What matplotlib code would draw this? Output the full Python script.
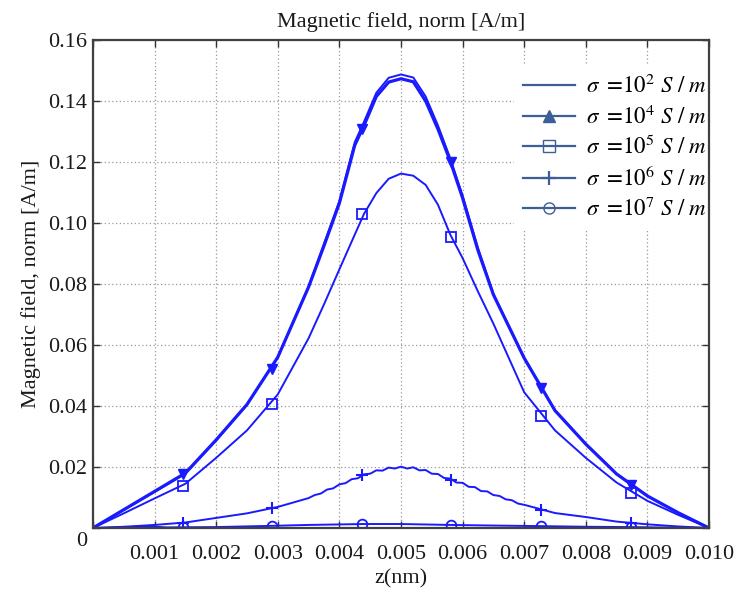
import matplotlib
matplotlib.use("Agg")
import matplotlib.pyplot as plt
from matplotlib.lines import Line2D
from matplotlib.transforms import ScaledTranslation

plt.rcParams['font.family'] = ['Liberation Serif', 'DejaVu Serif']
plt.rcParams['mathtext.fontset'] = 'stix'

# position along the sample (nm)
z_main = [0, .0005, .001, .0015, .002, .0025, .003, .0035, .00375, .004, .00425,
          .0044, .0046, .0048, .005, .0052, .0054, .0056, .0058, .006, .00625,
          .0065, .007, .0075, .008, .0085, .009, .0095, .010]

h_s2 = [0, .0059, .0118, .0178, .0287, .0404, .0560, .0792, .0932, .1072, .1265,
        .1332, .1427, .1476, .1487, .1477, .1415, .1320, .1212, .1090, .0918,
        .0768, .0558, .0386, .0276, .0178, .0105, .0050, 0]

h_s4 = [0, .0060, .0120, .0180, .0289, .0405, .0560, .0790, .0925, .1065, .1255,
        .1320, .1415, .1462, .1473, .1463, .1400, .1308, .1203, .1082, .0910,
        .0765, .0557, .0385, .0275, .0177, .0105, .0050, 0]

h_s5 = [0, .0048, .0097, .0145, .0230, .0320, .0438, .0622, .0733, .0848, .0962,
        .1030, .1098, .1145, .1162, .1155, .1125, .1060, .0962, .0885, .0775,
        .0670, .0445, .0320, .0230, .0149, .0089, .0043, 0]

z_s6 = [0, .0005, .001, .0015, .002, .0025, .003, .0035, .0036, .0037, .0038,
        .0039, .0040, .0041, .0042, .0043, .0044, .0045, .0046, .0047, .0048,
        .0049, .0050, .0051, .0052, .0053, .0054, .0055, .0056, .0057, .0058,
        .0059, .0060, .0061, .0062, .0063, .0064, .0065, .0066, .0067, .0068,
        .0069, .0070, .0075, .008, .0085, .009, .0095, .010]
h_s6 = [0, .0004, .0010, .0018, .0033, .0048, .0069, .0098, .0108, .0113, .0126,
        .0130, .0143, .0147, .0160, .0163, .0176, .0178, .0189, .0188, .0198,
        .0195, .0201, .0195, .0199, .0189, .0190, .0178, .0177, .0164, .0162,
        .0149, .0148, .0135, .0134, .0121, .0120, .0108, .0105, .0094, .0091,
        .0080, .0076, .0049, .0036, .0021, .0012, .0005, 0]

z_s7 = [0, .0005, .0009, .0012, .002, .0029, .0035, .0044, .005, .0058, .0065,
        .0073, .008, .0087, .0095, .010]
h_s7 = [0, .0002, .0005, .0002, .0003, .0007, .0010, .0013, .0013, .0010, .0008,
        .0006, .0004, .0003, .0001, 0]

# marker positions
z_mk = [.00146, .00291, .00436, .00582, .00727, .00873]
mk_s4 = [.0176, .0521, .1307, .1201, .0458, .0141]
mk_s5 = [.0139, .0407, .1030, .0955, .0367, .0115]
mk_s6 = [.0017, .0065, .0174, .0157, .0059, .0017]
mk_s7 = [.0003, .0007, .0013, .0010, .0007, .0003]

x_ticks = [0, .001, .002, .003, .004, .005, .006, .007, .008, .009, .010]
x_labels = ['', '0.001', '0.002', '0.003', '0.004', '0.005', '0.006', '0.007',
            '0.008', '0.009', '0.010']
y_ticks = [0, .02, .04, .06, .08, .10, .12, .14, .16]
y_labels = ['0', '0.02', '0.04', '0.06', '0.08', '0.10', '0.12', '0.14', '0.16']

legend_labels = [r'$\sigma\ =\!10^{2}\ S\ /\ m$', r'$\sigma\ =\!10^{4}\ S\ /\ m$',
                 r'$\sigma\ =\!10^{5}\ S\ /\ m$', r'$\sigma\ =\!10^{6}\ S\ /\ m$',
                 r'$\sigma\ =\!10^{7}\ S\ /\ m$']

blue = '#1a1aff'
leg_col = '#3d5f98'

fig = plt.figure(figsize=(7.39, 5.97), dpi=100)
ax = fig.add_axes([0.1258, 0.1156, 0.8336, 0.8174])

ax.plot(z_main, h_s2, color=blue, lw=1.4, zorder=3)
ax.plot(z_main, h_s4, color=blue, lw=2.3, zorder=3)
ax.plot(z_main, h_s5, color=blue, lw=1.4, zorder=3)
ax.plot(z_s6, h_s6, color=blue, lw=1.4, zorder=3)
ax.plot(z_s7, h_s7, color=blue, lw=1.4, zorder=3)

ax.plot(z_mk, mk_s4, ls='none', marker='v', ms=7, color=blue, zorder=4)
ax.plot(z_mk, mk_s5, ls='none', marker='s', ms=7, mfc='none', mec=blue, mew=1.3, zorder=4)
ax.plot(z_mk, mk_s6, ls='none', marker='+', ms=9, mec=blue, mew=1.5, zorder=4)
ax.plot(z_mk, mk_s7, ls='none', marker='o', ms=7, mfc='none', mec=blue, mew=1.3, zorder=4)

ax.set_xlim(0, 0.010)
ax.set_ylim(0, 0.16)
ax.set_xticks(x_ticks)
ax.set_xticklabels(x_labels)
ax.set_yticks(y_ticks)
ax.set_yticklabels(y_labels)
ax.tick_params(direction='in', top=True, right=True, length=5, width=1,
               labelsize=16, colors='#333333', labelcolor='#1a1a1a')
ax.tick_params(axis='x', pad=12)
ax.tick_params(axis='y', pad=4)
# corner label sits slightly below the axis line
fig.canvas.draw()
ylab0 = ax.get_yticklabels()[0]
ylab0.set_transform(ylab0.get_transform() + ScaledTranslation(0, -8 / 72, fig.dpi_scale_trans))

ax.grid(True, ls=(0, (1, 2)), color='#999999', lw=0.9)
ax.set_axisbelow(True)
for sp in ax.spines.values():
    sp.set_color('#404040')
    sp.set_linewidth(1.6)
    sp.set_zorder(6)

ax.set_title('Magnetic field, norm [A/m]', fontsize=16, pad=9, color='#1a1a1a')
ax.set_xlabel('z(nm)', fontsize=16, labelpad=4, color='#1a1a1a')
ax.set_ylabel('Magnetic field, norm [A/m]', fontsize=16, labelpad=5, color='#1a1a1a')

handles = [
    Line2D([], [], color=leg_col, lw=1.6),
    Line2D([], [], color=leg_col, lw=1.6, marker='^', ms=8),
    Line2D([], [], color=leg_col, lw=1.6, marker='s', ms=8, mfc='none'),
    Line2D([], [], color=leg_col, lw=1.6, marker='+', ms=10, mew=1.6),
    Line2D([], [], color=leg_col, lw=1.6, marker='o', ms=8, mfc='none'),
]
leg = ax.legend(handles, legend_labels, loc='upper right', bbox_to_anchor=(1.03, 0.97),
                frameon=True, fontsize=16.5, handlelength=2.3, handletextpad=0.45,
                labelspacing=0.3, borderpad=0.4, fancybox=False)
leg.get_frame().set_edgecolor('none')
leg.get_frame().set_facecolor('white')
leg.get_frame().set_alpha(1)
leg.set_zorder(5)

fig.savefig('out.png', dpi=100)
